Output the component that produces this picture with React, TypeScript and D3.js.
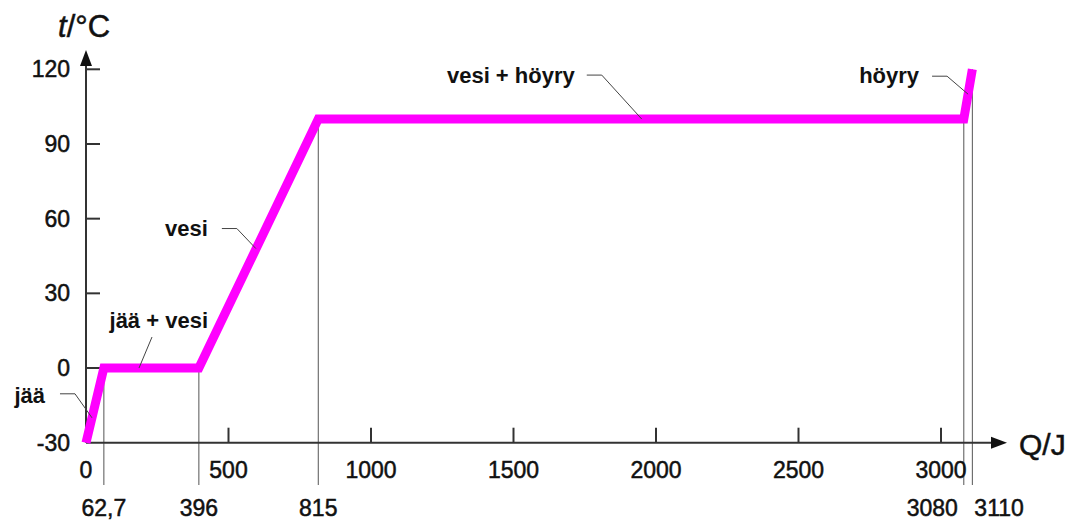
import React from "react";
import * as d3 from "d3";

// heating curve of water: heat Q (J) vs temperature t (°C)
const heatQ = [0, 62.7, 396, 815, 3080, 3110];
const tempT = [-30, 0, 0, 100, 100, 120];

const xTicks = [0, 500, 1000, 1500, 2000, 2500, 3000];
const yTicks = [-30, 0, 30, 60, 90, 120];

// marked points below the axis
const markQ = [62.7, 396, 815, 3080, 3110];
const markT = [0, 0, 100, 100, 120];
const markLabels = ["62,7", "396", "815", "3080", "3110"];

// phase labels and where their leader lines touch the curve
const phaseLabels = ["jää", "jää + vesi", "vesi", "vesi + höyry", "höyry"];
const phaseQ = [21, 186, 596, 1950, 3095];
const phaseT = [-20, 0, 48, 100, 110];

// label layout, offsets from the anchor: text end, leader start, leader knee
const phaseLayout = [
  { text: [-47, -15], start: [-32, -24], knee: [-17, -24] },
  { text: [69, -40], start: [13, -31], knee: [13, -31] },
  { text: [-48, -13], start: [-34, -20], knee: [-19, -20] },
  { text: [-67, -36], start: [-55, -44], knee: [-40, -44] },
  { text: [-49, -11], start: [-36, -18], knee: [-21, -18] },
];

const W = 1073;
const H = 521;
const FONT = "'Liberation Sans', Arial, sans-serif";

export default function App() {
  const x = d3.scaleLinear().domain([0, 3000]).range([86, 941]);
  const y = d3.scaleLinear().domain([-30, 120]).range([442.7, 69.3]);

  const x0 = x(0);
  const y0 = y(-30);

  const curve = d3
    .line<number>()
    .x((d) => x(d))
    .y((_, i) => y(tempT[i]));

  const leader = d3.line();

  const num = { fontSize: 23, fill: "#111", stroke: "#111", strokeWidth: 0.5 };

  return (
    <svg
      width={W}
      height={H}
      style={{ position: "absolute", left: 0, top: 0, background: "#fff" }}
      fontFamily={FONT}
    >
      {/* guide lines from the marked points */}
      {markQ.map((q, i) => (
        <line
          key={"g" + i}
          x1={x(q)}
          x2={x(q)}
          y1={y(markT[i])}
          y2={485}
          stroke="#555"
          strokeWidth={1}
        />
      ))}

      {/* axes */}
      <line x1={x0} x2={x0} y1={y0} y2={62} stroke="#333" strokeWidth={2} />
      <path d={`M${x0},50 L${x0 - 6},66 L${x0 + 6},66 Z`} fill="#111" />
      <line x1={x0} x2={995} y1={y0} y2={y0} stroke="#333" strokeWidth={2} />
      <path d={`M1007,${y0} L991,${y0 - 6} L991,${y0 + 6} Z`} fill="#111" />

      {yTicks.map((t) => (
        <g key={"y" + t}>
          {t > -30 && (
            <line x1={x0} x2={x0 + 14} y1={y(t)} y2={y(t)} stroke="#333" strokeWidth={2} />
          )}
          <text x={70} y={y(t) + 8} textAnchor="end" {...num}>
            {t}
          </text>
        </g>
      ))}

      {xTicks.map((q) => (
        <g key={"x" + q}>
          {q > 0 && (
            <line x1={x(q)} x2={x(q)} y1={y0} y2={y0 - 15} stroke="#333" strokeWidth={2} />
          )}
          <text x={x(q)} y={478} textAnchor="middle" {...num}>
            {q}
          </text>
        </g>
      ))}

      {markQ.map((q, i) => (
        <text
          key={"m" + i}
          x={x(q) + (i === 3 ? -6 : i === 4 ? 2 : 0)}
          y={516}
          textAnchor={i === 3 ? "end" : i === 4 ? "start" : "middle"}
          {...num}
        >
          {markLabels[i]}
        </text>
      ))}

      {/* axis titles */}
      <text x={58} y={37} fontSize={31} fill="#111" stroke="#111" strokeWidth={0.5}>
        <tspan fontStyle="italic">t</tspan>/°C
      </text>
      <text x={1019} y={455} fontSize={30} fill="#111" stroke="#111" strokeWidth={0.5}>
        Q/J
      </text>

      {/* heating curve */}
      <path
        d={curve(heatQ) || ""}
        fill="none"
        stroke="#ff00ff"
        strokeWidth={9}
        strokeLinejoin="miter"
      />

      {/* phase labels */}
      {phaseLabels.map((name, i) => {
        const ax = x(phaseQ[i]);
        const ay = y(phaseT[i]);
        const l = phaseLayout[i];
        const pts: [number, number][] = [
          [ax + l.start[0], ay + l.start[1]],
          [ax + l.knee[0], ay + l.knee[1]],
          [ax, ay],
        ];
        return (
          <g key={"p" + i}>
            <path d={leader(pts) || ""} fill="none" stroke="#444" strokeWidth={1} />
            <text
              x={ax + l.text[0]}
              y={ay + l.text[1]}
              textAnchor="end"
              fontSize={22}
              fontWeight="bold"
              fill="#111"
            >
              {name}
            </text>
          </g>
        );
      })}
    </svg>
  );
}
